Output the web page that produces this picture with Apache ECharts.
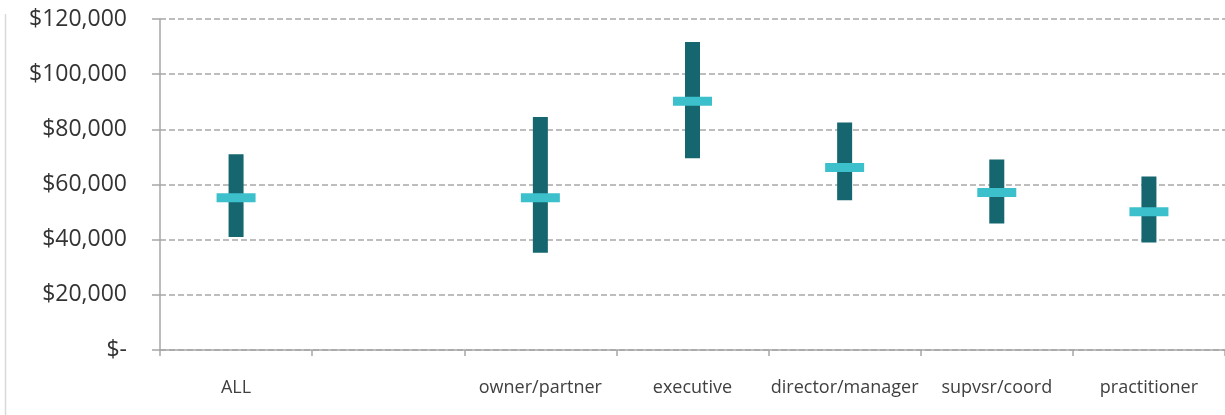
<!DOCTYPE html>
<html><head><meta charset="utf-8">
<script src="https://cdn.jsdelivr.net/npm/echarts@6/dist/echarts.min.js"></script>
<style>html,body{margin:0;padding:0;background:#fff}#c{width:1225px;height:415px}</style>
</head><body><div id="c"></div>
<script>
const categories = ['ALL', '', 'owner/partner', 'executive', 'director/manager', 'supvsr/coord', 'practitioner'];
const lowValues = [41000, null, 35300, 69500, 54300, 45900, 39000];
const highValues = [71000, null, 84500, 111700, 82500, 69100, 62900];
const medianValues = [55200, null, 55200, 90200, 66200, 57100, 50100];
const yTicks = [0, 20000, 40000, 60000, 80000, 100000, 120000];

const chart = echarts.init(document.getElementById('c'), null, {renderer: 'canvas'});
const rangeData = categories.map((c, i) => lowValues[i] == null ? [i, null, null] : [i, lowValues[i], highValues[i]]);
const medData = categories.map((c, i) => medianValues[i] == null ? [i, null] : [i, medianValues[i]]);

chart.setOption({
  animation: false,
  grid: {left: 160, top: 19, width: 1067.5, bottom: 65, containLabel: false},
  xAxis: {
    type: 'category', data: categories, boundaryGap: true,
    axisLine: {lineStyle: {color: '#a6a6a6', width: 1.5}},
    axisTick: {show: true, length: 6, alignWithLabel: false, lineStyle: {color: '#a6a6a6', width: 1.5}},
    axisLabel: {fontFamily: 'Open Sans', fontSize: 18, color: '#404040', margin: 29, interval: 0},
    splitLine: {show: false}
  },
  yAxis: {
    type: 'value', min: 0, max: 120000, interval: 20000,
    axisLine: {show: true, lineStyle: {color: '#a6a6a6', width: 1.5}},
    axisTick: {show: true, length: 8, inside: false, lineStyle: {color: '#a6a6a6', width: 1.5}},
    axisLabel: {
      fontFamily: 'Open Sans', fontSize: 23, color: '#333', margin: 33,
      formatter: v => v === 0 ? '$-' : '$' + v.toLocaleString('en-US')
    },
    splitLine: {show: true, lineStyle: {color: '#a8a8a8', type: [6, 3], width: 1.5}}
  },
  graphic: [{type: 'line', shape: {x1: 5.5, y1: 14, x2: 5.5, y2: 415}, style: {stroke: '#d9d9d9', lineWidth: 1.5}}],
  series: [
    {
      type: 'custom', data: rangeData, z: 2,
      encode: {x: 0, y: [1, 2]},
      renderItem: function (params, api) {
        const lo = api.value(1), hi = api.value(2);
        if (lo == null || isNaN(lo)) return;
        const p1 = api.coord([api.value(0), lo]);
        const p2 = api.coord([api.value(0), hi]);
        const w = 15;
        return {type: 'rect', shape: {x: p1[0] - w / 2, y: p2[1], width: w, height: p1[1] - p2[1]},
          style: {fill: '#15666f'}};
      }
    },
    {
      type: 'scatter', data: medData, z: 3,
      symbol: 'rect', symbolSize: [39, 9],
      itemStyle: {color: '#3cc0cc', opacity: 1}
    }
  ]
});
</script></body></html>
